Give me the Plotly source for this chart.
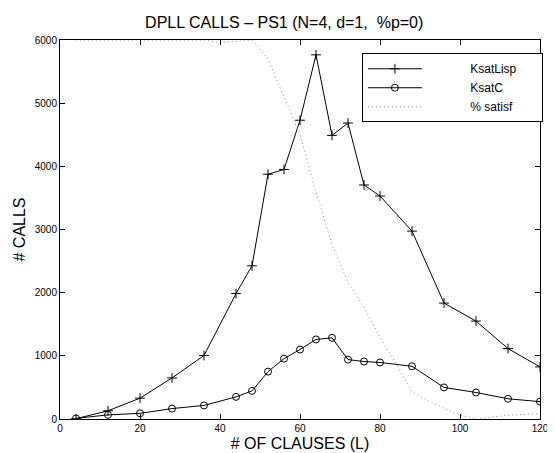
import plotly.graph_objects as go

clauses = [4, 12, 20, 28, 36, 44, 48, 52, 56, 60, 64, 68, 72, 76, 80, 88, 96, 104, 112, 120]
ksat_lisp = [5, 130, 330, 650, 1005, 1985, 2425, 3875, 3950, 4730, 5765, 4490, 4685, 3705, 3530, 2975, 1835, 1550, 1115, 825]
ksat_c = [10, 65, 90, 165, 215, 350, 445, 750, 955, 1100, 1260, 1285, 940, 910, 895, 835, 500, 420, 320, 275]

satisf_x = [4, 12, 20, 28, 36, 40, 44, 48, 52, 56, 60, 64, 68, 72, 76, 80, 84, 88, 92, 96, 100, 104, 108, 112, 116, 120]
satisf_pct = [100, 100, 100, 100, 100, 99.3, 99.6, 100, 95, 85, 75, 60, 46, 36, 29.5, 21.5, 14.7, 7.2, 4.8, 2.8, 1.1, 0, 0.5, 1.0, 1.2, 1.3]
satisf_scale = 6000 / 100.0

legend_names = ["KsatLisp", "KsatC", "% satisf"]
pad_l = "\u00a0" * 13
pad_r = "\u00a0" * 6

font = "Liberation Sans, Arial, Helvetica, sans-serif"

fig = go.Figure()
fig.add_trace(go.Scatter(
    x=clauses, y=ksat_lisp, name=pad_l + legend_names[0] + pad_r, mode="lines+markers",
    line=dict(color="black", width=1),
    marker=dict(symbol="cross-thin-open", size=7, color="black", line=dict(width=1, color="black")),
))
fig.add_trace(go.Scatter(
    x=clauses, y=ksat_c, name=pad_l + legend_names[1] + pad_r, mode="lines+markers",
    line=dict(color="black", width=1),
    marker=dict(symbol="circle-open", size=7, color="black", line=dict(width=1, color="black")),
))
fig.add_trace(go.Scatter(
    x=satisf_x, y=[v * satisf_scale for v in satisf_pct], name=pad_l + legend_names[2] + pad_r, mode="lines",
    line=dict(color="#8a8a8a", width=1, dash="1px,3px"),
))

axis_common = dict(
    showgrid=False, zeroline=False, showline=True, linecolor="black", linewidth=1,
    mirror="allticks", ticks="inside", ticklen=5, tickcolor="black", automargin=False,
    ticklabeloverflow="allow",
    tickfont=dict(family=font, size=10, color="black"),
)

# page body has an 8px offset; figure sized so that it fits the 555x453 window
fig.update_layout(
    width=547, height=445,
    margin=dict(l=52, r=13, t=32, b=34),
    paper_bgcolor="white", plot_bgcolor="white",
    title=dict(text="DPLL CALLS – PS1 (N=4, d=1,  %p=0)", x=0.505, xanchor="center",
               yref="container", y=0.968, yanchor="middle",
               font=dict(family=font, size=16, color="black")),
    xaxis=dict(range=[0, 120], tick0=0, dtick=20,
               title=dict(text="# OF CLAUSES (L)", font=dict(family=font, size=16, color="black"), standoff=4),
               **axis_common),
    yaxis=dict(range=[0, 6000], tick0=0, dtick=1000,
               title=dict(text="# CALLS", font=dict(family=font, size=16, color="black"), standoff=5),
               **axis_common),
    legend=dict(x=0.629, y=0.965, xanchor="left", yanchor="top",
                bordercolor="black", borderwidth=1, bgcolor="white",
                font=dict(family=font, size=12, color="black"),
                tracegroupgap=0, itemwidth=54),
    showlegend=True,
)

fig.write_html("out.html")
